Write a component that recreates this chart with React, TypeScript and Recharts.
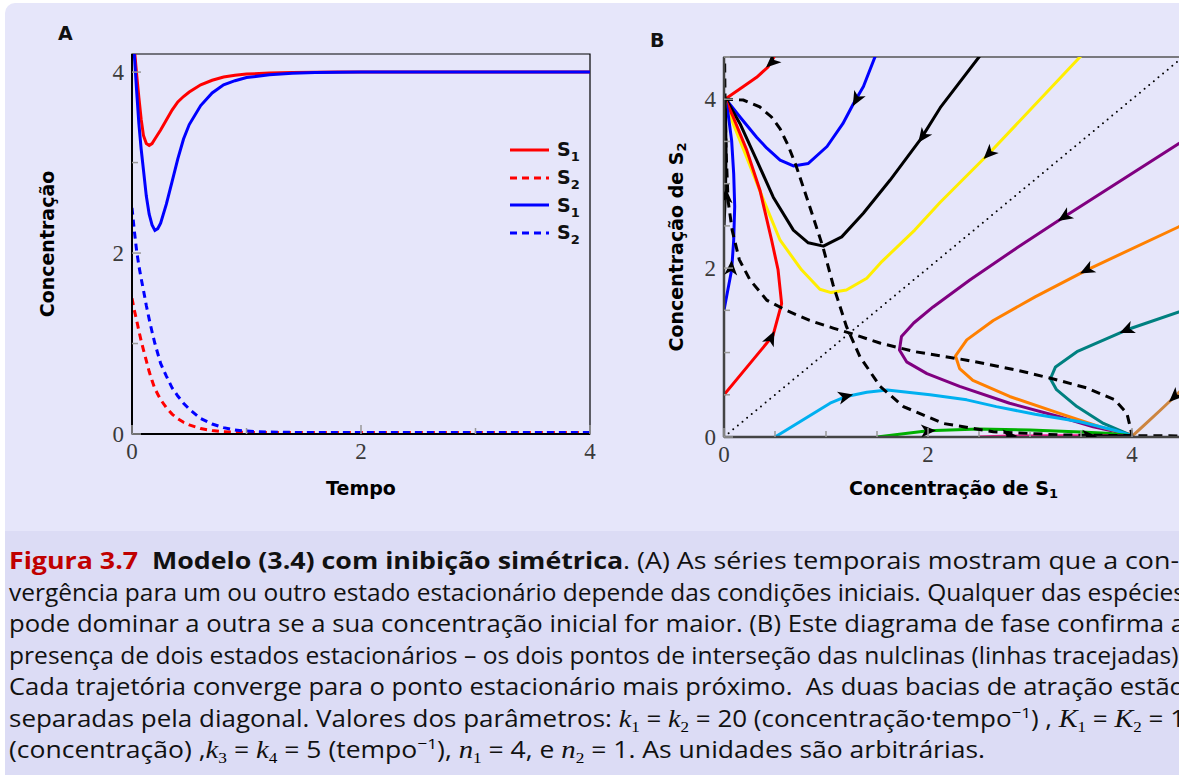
import React from 'react';
import { LineChart, ComposedChart, Line, Scatter, XAxis, YAxis, ReferenceArea, Legend, Label } from 'recharts';

// ---------- Panel A : time series ----------
const timeA = [0, 0.02, 0.04, 0.06, 0.08, 0.1, 0.125, 0.15, 0.175, 0.2, 0.225, 0.25, 0.3, 0.35, 0.4, 0.45, 0.5, 0.6, 0.7, 0.8, 0.9, 1.0, 1.2, 1.4, 1.6, 1.8, 2.0, 2.5, 3.0, 3.5, 4.0];
const redS1 = [4.55, 4.27, 3.98, 3.72, 3.48, 3.3, 3.21, 3.19, 3.21, 3.26, 3.31, 3.36, 3.47, 3.58, 3.67, 3.73, 3.78, 3.86, 3.91, 3.945, 3.965, 3.978, 3.99, 3.996, 3.999, 4, 4, 4, 4, 4, 4];
const redS2 = [1.5, 1.37, 1.26, 1.14, 1.03, 0.93, 0.81, 0.69, 0.59, 0.5, 0.44, 0.38, 0.29, 0.22, 0.17, 0.13, 0.1, 0.06, 0.038, 0.026, 0.02, 0.018, 0.016, 0.016, 0.016, 0.016, 0.016, 0.016, 0.016, 0.016, 0.016];
const blueS1 = [4.55, 4.2, 3.8, 3.43, 3.15, 2.92, 2.63, 2.43, 2.31, 2.25, 2.27, 2.33, 2.54, 2.79, 3.04, 3.26, 3.42, 3.63, 3.77, 3.86, 3.905, 3.94, 3.97, 3.988, 3.996, 3.999, 4, 4, 4, 4, 4];
const blueS2 = [2.5, 2.25, 2.03, 1.86, 1.72, 1.59, 1.42, 1.27, 1.13, 1.0, 0.89, 0.78, 0.64, 0.51, 0.42, 0.34, 0.275, 0.17, 0.11, 0.07, 0.045, 0.032, 0.021, 0.018, 0.016, 0.016, 0.016, 0.016, 0.016, 0.016, 0.016];
const ticksA_X = [0, 1, 2, 3, 4];
const ticksA_Y = [0, 1, 2, 3, 4];
const labeledA = [0, 2, 4];

const rowsA = timeA.map((t, i) => ({ t, r1: redS1[i], r2: redS2[i], b1: blueS1[i], b2: blueS2[i] }));

const seriesA = [
  { key: 'r1', sub: '1', color: '#ff0000', dash: undefined as string | undefined },
  { key: 'r2', sub: '2', color: '#ff0000', dash: '7 5' },
  { key: 'b1', sub: '1', color: '#0000ff', dash: undefined as string | undefined },
  { key: 'b2', sub: '2', color: '#0000ff', dash: '7 5' },
];

// ---------- Panel B : phase plane ----------
type P = [number, number];
const trajRedTop: P[] = [[0.55, 4.7], [0.49, 4.5], [0.43, 4.38], [0.32, 4.26], [0.19, 4.15], [0.08, 4.06], [0.01, 4.0]];
const trajBlueTop: P[] = [[1.57, 4.7], [1.48, 4.5], [1.367, 4.15], [1.27, 3.95], [1.165, 3.71], [1.01, 3.44], [0.827, 3.24], [0.68, 3.21], [0.55, 3.28], [0.42, 3.42], [0.32, 3.55], [0.157, 3.79], [0.026, 3.99]];
const trajBlackTop: P[] = [[2.56, 4.6], [2.5, 4.5], [2.12, 3.9], [1.93, 3.53], [1.627, 3.04], [1.366, 2.65], [1.154, 2.37], [0.974, 2.26], [0.826, 2.3], [0.68, 2.45], [0.483, 2.84], [0.32, 3.28], [0.157, 3.71], [0.02, 4.0]];
const trajYellow: P[] = [[3.57, 4.6], [3.49, 4.5], [2.6, 3.36], [2.12, 2.78], [1.87, 2.45], [1.55, 2.08], [1.4, 1.88], [1.2, 1.74], [1.05, 1.71], [0.94, 1.75], [0.76, 1.98], [0.55, 2.33], [0.39, 2.8], [0.22, 3.32], [0.09, 3.71], [0.02, 3.97]];
const trajRedLow: P[] = [[0, 0.5], [0.48, 1.2], [0.565, 1.58], [0.53, 1.98], [0.467, 2.33], [0.353, 2.92], [0.222, 3.4], [0.09, 3.79], [0.01, 4.0]];
const trajBlueLow: P[] = [[0, 1.5], [0.075, 1.98], [0.095, 2.33], [0.105, 2.73], [0.095, 3.12], [0.075, 3.51], [0.04, 3.83], [0.01, 4.0]];
const trajBlackAxis: P[] = [[0, 2.5], [0.015, 2.9], [0.02, 3.4], [0.015, 3.8], [0.01, 4.0]];
const trajYellowAxis: P[] = [[0, 3.5], [0.01, 3.8], [0.01, 4.0]];
const trajPurple: P[] = [[4.6, 3.56], [4.46, 3.475], [3.34, 2.61], [2.884, 2.25], [2.41, 1.86], [2.05, 1.54], [1.86, 1.35], [1.74, 1.19], [1.72, 1.03], [1.79, 0.89], [1.99, 0.75], [2.31, 0.6], [2.8, 0.4], [3.29, 0.24], [3.62, 0.12], [3.95, 0.035], [4.0, 0.016]];
const trajOrange: P[] = [[4.6, 2.56], [4.46, 2.49], [3.56, 1.98], [3.05, 1.66], [2.64, 1.38], [2.38, 1.15], [2.27, 0.96], [2.31, 0.81], [2.44, 0.67], [2.8, 0.48], [3.29, 0.28], [3.69, 0.12], [3.98, 0.03], [4.0, 0.016]];
const trajTeal: P[] = [[4.6, 1.54], [4.46, 1.48], [3.95, 1.27], [3.46, 1.01], [3.25, 0.83], [3.2, 0.69], [3.26, 0.56], [3.46, 0.36], [3.72, 0.16], [3.97, 0.03], [4.0, 0.016]];
const trajCyan: P[] = [[0.5, 0], [1.04, 0.4], [1.2, 0.48], [1.4, 0.53], [1.6, 0.556], [2.02, 0.5], [2.38, 0.44], [2.67, 0.36], [3.05, 0.27], [3.49, 0.18], [3.83, 0.08], [4.0, 0.016]];
const trajGreen: P[] = [[1.5, 0], [2.0, 0.075], [2.5, 0.095], [3.0, 0.083], [3.5, 0.06], [3.8, 0.04], [4.0, 0.016]];
const trajPink: P[] = [[2.5, 0], [2.8, 0.012], [3.2, 0.016], [4.0, 0.016]];
const trajBlackBottom: P[] = [[3.5, 0], [3.7, 0.012], [4.0, 0.016]];
const trajBrown: P[] = [[4.62, 0.72], [4.42, 0.48], [4.28, 0.32], [4.12, 0.14], [4.01, 0.02]];

const nullclineA: P[] = [[0, 4.0], [0.19, 3.99], [0.35, 3.91], [0.465, 3.79], [0.55, 3.65], [0.63, 3.45], [0.71, 3.2], [0.81, 2.84], [0.97, 2.25], [1.07, 1.8], [1.2, 1.31], [1.333, 0.95], [1.53, 0.6], [1.76, 0.36], [2.15, 0.16], [2.64, 0.063], [3.29, 0.024], [4.0, 0.016], [4.6, 0.012]];
const nullclineB: P[] = [[0.005, 4.6], [0.01, 4.0], [0.02, 3.4], [0.04, 2.8], [0.08, 2.45], [0.15, 2.1], [0.255, 1.86], [0.42, 1.62], [0.61, 1.5], [0.84, 1.38], [1.07, 1.29], [1.235, 1.23], [1.535, 1.11], [1.873, 1.01], [2.38, 0.91], [2.88, 0.79], [3.22, 0.69], [3.56, 0.58], [3.83, 0.44], [3.95, 0.28], [3.99, 0.08], [4.0, 0]];
const diagonal: P[] = [[0, 0], [4.5, 4.5]];

// arrow position + flow direction (data units)
const arrowsB = [
  { x: 0.47, y: 4.44, dx: -0.1, dy: -0.11 },
  { x: 1.3, y: 4.0, dx: -0.2, dy: -0.44 },
  { x: 1.95, y: 3.56, dx: -0.3, dy: -0.5 },
  { x: 2.6, y: 3.36, dx: -0.48, dy: -0.58 },
  { x: 3.34, y: 2.61, dx: -0.46, dy: -0.36 },
  { x: 3.56, y: 1.98, dx: -0.51, dy: -0.32 },
  { x: 3.95, y: 1.27, dx: -0.49, dy: -0.26 },
  { x: 0.46, y: 1.17, dx: 0.2, dy: 0.5 },
  { x: 0.07, y: 2.0, dx: 0.02, dy: 0.4 },
  { x: 0.02, y: 2.85, dx: 0, dy: 1 },
  { x: 1.19, y: 0.48, dx: 0.2, dy: 0.06 },
  { x: 2.0, y: 0.075, dx: 0.5, dy: 0.02 },
  { x: 2.8, y: 0.012, dx: 1, dy: 0 },
  { x: 3.58, y: 0.01, dx: 1, dy: 0 },
  { x: 4.42, y: 0.48, dx: -0.14, dy: -0.16 },
];
const ticksB = [0, 0.5, 1, 1.5, 2, 2.5, 3, 3.5, 4, 4.5];
const labeledB = [0, 2, 4];

const toPts = (a: P[]) => a.map(([x, y]) => ({ x, y }));

const trajectories = [
  { id: 'redTop', color: '#ff0000', pts: trajRedTop },
  { id: 'blueTop', color: '#0000ff', pts: trajBlueTop },
  { id: 'blackTop', color: '#000000', pts: trajBlackTop },
  { id: 'yellow', color: '#ffee00', pts: trajYellow },
  { id: 'redLow', color: '#ff0000', pts: trajRedLow },
  { id: 'blueLow', color: '#0000ff', pts: trajBlueLow },
  { id: 'yellowAxis', color: '#ffee00', pts: trajYellowAxis },
  { id: 'blackAxis', color: '#000000', pts: trajBlackAxis },
  { id: 'purple', color: '#800080', pts: trajPurple },
  { id: 'orange', color: '#ff8000', pts: trajOrange },
  { id: 'teal', color: '#008080', pts: trajTeal },
  { id: 'cyan', color: '#00b0f0', pts: trajCyan },
  { id: 'green', color: '#00b000', pts: trajGreen },
  { id: 'pink', color: '#ff1493', pts: trajPink },
  { id: 'blackBottom', color: '#000000', pts: trajBlackBottom },
  { id: 'brown', color: '#cd853f', pts: trajBrown },
];

// ---------- Caption ----------
type Seg = { t?: string; b?: boolean; c?: string; m?: boolean; sub?: string; sup?: string };
const captionLines: { segs: Seg[]; w: number }[] = [
  { w: 1170, segs: [{ t: 'Figura 3.7', b: true, c: '#c00000' }, { t: '  ' }, { t: 'Modelo (3.4) com inibição simétrica', b: true }, { t: '. (A) As séries temporais mostram que a con-' }] },
  { w: 1176, segs: [{ t: 'vergência para um ou outro estado estacionário depende das condições iniciais. Qualquer das espécies' }] },
  { w: 1176, segs: [{ t: 'pode dominar a outra se a sua concentração inicial for maior. (B) Este diagrama de fase confirma a' }] },
  { w: 1176, segs: [{ t: 'presença de dois estados estacionários – os dois pontos de interseção das nulclinas (linhas tracejadas).' }] },
  { w: 1176, segs: [{ t: 'Cada trajetória converge para o ponto estacionário mais próximo.  As duas bacias de atração estão' }] },
  { w: 1176, segs: [{ t: 'separadas pela diagonal. Valores dos parâmetros: ' }, { t: 'k', m: true }, { sub: '1' }, { t: ' = ' }, { t: 'k', m: true }, { sub: '2' }, { t: ' = 20 (concentração·tempo' }, { sup: '−1' }, { t: ') , ' }, { t: 'K', m: true }, { sub: '1' }, { t: ' = ' }, { t: 'K', m: true }, { sub: '2' }, { t: ' = 1' }] },
  { w: 976, segs: [{ t: '(concentração) ,' }, { t: 'k', m: true }, { sub: '3' }, { t: ' = ' }, { t: 'k', m: true }, { sub: '4' }, { t: ' = 5 (tempo' }, { sup: '−1' }, { t: '), ' }, { t: 'n', m: true }, { sub: '1' }, { t: ' = 4, e ' }, { t: 'n', m: true }, { sub: '2' }, { t: ' = 1. As unidades são arbitrárias.' }] },
];

// ---------- helpers ----------
const SERIF = '"Liberation Serif", "DejaVu Serif", serif';
const SANS = '"DejaVu Sans", sans-serif';
const CAP = '"Open Sans", "Noto Sans", sans-serif';
const PLOT_B_W = 459, PLOT_B_H = 380, DOM_B = 4.5;

const tickTextStyle: React.CSSProperties = { fontFamily: SERIF, fontSize: 23, fill: '#3a3a3a' };

const makeYTick = (labeled: number[]) => (props: any) => {
  const { x, y, payload } = props;
  const v = payload.value;
  const major = labeled.includes(v);
  return (
    <g>
      <line x1={x} x2={x + (major ? 9 : 6)} y1={y} y2={y} stroke="#999" strokeWidth={1.5} />
      {major && (
        <text x={x - 8} y={y} textAnchor="end" dominantBaseline="central" style={tickTextStyle}>{v}</text>
      )}
    </g>
  );
};
const makeXTick = (labeled: number[]) => (props: any) => {
  const { x, y, payload } = props;
  const v = payload.value;
  const major = labeled.includes(v);
  return (
    <g>
      <line x1={x} x2={x} y1={y} y2={y - (major ? 9 : 6)} stroke="#999" strokeWidth={1.5} />
      {major && (
        <text x={x} y={y + 17} textAnchor="middle" dominantBaseline="central" style={tickTextStyle}>{v}</text>
      )}
    </g>
  );
};

const ArrowHead = (props: any) => {
  const { cx, cy, payload } = props;
  if (cx == null || cy == null || !payload) return <g />;
  const ang = (Math.atan2(-payload.dy * (PLOT_B_H / DOM_B), payload.dx * (PLOT_B_W / DOM_B)) * 180) / Math.PI;
  return <path d="M 8 0 L -7 -6.5 L -3 0 L -7 6.5 Z" fill="#000" transform={`translate(${cx},${cy}) rotate(${ang})`} />;
};

const titleStyle: React.CSSProperties = { fontFamily: SANS, fontWeight: 'bold', fontSize: 19, fill: '#000' };

const xTitle = (text: React.ReactNode, dy: number) => (props: any) => {
  const vb = props.viewBox || { x: 0, y: 0, width: 0, height: 0 };
  return (
    <text x={vb.x + vb.width / 2} y={vb.y + dy} textAnchor="middle" dominantBaseline="central" style={titleStyle}>{text}</text>
  );
};
const yTitle = (text: React.ReactNode, dx: number) => (props: any) => {
  const vb = props.viewBox || { x: 0, y: 0, width: 0, height: 0 };
  const cx = vb.x + dx;
  const cy = vb.y + vb.height / 2;
  return (
    <text x={cx} y={cy} transform={`rotate(-90 ${cx} ${cy})`} textAnchor="middle" dominantBaseline="central" style={titleStyle}>{text}</text>
  );
};

const LegendA = () => (
  <div style={{ display: 'flex', flexDirection: 'column' }}>
    {seriesA.map((s) => (
      <div key={s.key} style={{ height: 27.7, display: 'flex', alignItems: 'center' }}>
        <svg width={40} height={8} style={{ display: 'block' }}>
          <line x1={0} x2={39} y1={4} y2={4} stroke={s.color} strokeWidth={3} strokeDasharray={s.dash} />
        </svg>
        <span style={{ marginLeft: 7, fontFamily: SANS, fontWeight: 'bold', fontSize: 19, color: '#111', lineHeight: 1 }}>
          S<span style={{ fontSize: 13, position: 'relative', top: 5 }}>{s.sub}</span>
        </span>
      </div>
    ))}
  </div>
);

const renderCaption = () =>
  captionLines.map((line, li) => {
    let shift = 0;
    const children: React.ReactNode[] = [];
    line.segs.forEach((s, si) => {
      if (s.sub || s.sup) {
        const target = s.sub ? 5 : -9;
        children.push(
          <tspan key={si} dy={target - shift} style={{ fontSize: 15, fontFamily: s.sub ? SERIF : CAP }}>{s.sub || s.sup}</tspan>
        );
        shift = target;
      } else {
        children.push(
          <tspan
            key={si}
            dy={-shift}
            style={{
              fontWeight: s.b ? 'bold' : 'normal',
              fill: s.c || '#111',
              fontStyle: s.m ? 'italic' : 'normal',
              fontFamily: s.m ? SERIF : CAP,
              fontSize: s.m ? 25 : 23,
            }}
          >
            {s.t}
          </tspan>
        );
        shift = 0;
      }
    });
    return (
      <text key={li} x={9} y={569 + li * 31.5} textLength={line.w} lengthAdjust="spacingAndGlyphs" style={{ whiteSpace: 'pre', fontFamily: CAP, fontSize: 23 }}>
        {children}
      </text>
    );
  });

export default function App() {
  return (
    <div style={{ position: 'absolute', left: 0, top: 0, width: 1179, height: 775, overflow: 'hidden', background: '#ffffff' }}>
      <div style={{ position: 'absolute', left: 5, top: 3, width: 1200, height: 800, background: '#e6e6fa', borderRadius: 10 }} />
      <div style={{ position: 'absolute', left: 5, top: 531, width: 1200, height: 260, background: '#dcdcf5' }} />

      <div style={{ position: 'absolute', left: 58, top: 24, fontFamily: SANS, fontWeight: 'bold', fontSize: 19, color: '#111', lineHeight: 1 }}>A</div>
      <div style={{ position: 'absolute', left: 650, top: 31, fontFamily: SANS, fontWeight: 'bold', fontSize: 19, color: '#111', lineHeight: 1 }}>B</div>

      {/* Panel A */}
      <div style={{ position: 'absolute', left: 0, top: 0 }}>
        <LineChart width={620} height={520} data={rowsA} margin={{ top: 54, right: 30, bottom: 56, left: 92 }}>
          <ReferenceArea x1={0} x2={4} y1={0} y2={4.2} fill="none" stroke="#000" strokeWidth={1.2} ifOverflow="visible" />
          <XAxis dataKey="t" type="number" domain={[0, 4]} ticks={ticksA_X} interval={0} allowDataOverflow height={30}
            tickSize={0} tickMargin={0} tickLine={false} tick={makeXTick(labeledA)} axisLine={{ stroke: '#000', strokeWidth: 2 }}>
            <Label content={xTitle('Tempo', 54)} />
          </XAxis>
          <YAxis type="number" domain={[0, 4.2]} ticks={ticksA_Y} interval={0} allowDataOverflow width={40}
            tickSize={0} tickMargin={0} tickLine={false} tick={makeYTick(labeledA)} axisLine={{ stroke: '#000', strokeWidth: 2 }}>
            <Label content={yTitle('Concentração', -45)} />
          </YAxis>
          {seriesA.map((s) => (
            <Line key={s.key} dataKey={s.key} name={'S' + s.sub} stroke={s.color} strokeWidth={3} strokeDasharray={s.dash}
              dot={false} activeDot={false} isAnimationActive={false} type="linear" />
          ))}
          <Legend layout="vertical" align="center" verticalAlign="middle" content={LegendA}
            wrapperStyle={{ position: 'absolute', left: 510, top: 136, width: 100, height: 112 }} />
        </LineChart>
      </div>

      {/* Panel B */}
      <div style={{ position: 'absolute', left: 630, top: 0 }}>
        <ComposedChart width={580} height={520} margin={{ top: 57, right: 27, bottom: 53, left: 54 }}>
          <ReferenceArea x1={0} x2={4.5} y1={0} y2={4.5} fill="none" stroke="#555" strokeWidth={1.5} ifOverflow="visible" />
          <XAxis dataKey="x" type="number" domain={[0, 4.5]} ticks={ticksB} interval={0} allowDataOverflow height={30}
            tickSize={0} tickMargin={0} tickLine={false} tick={makeXTick(labeledB)} axisLine={{ stroke: '#444', strokeWidth: 2.5 }}>
            <Label content={xTitle(<>Concentração de S<tspan style={{ fontSize: 13 }} dy={5}>1</tspan></>, 51)} />
          </XAxis>
          <YAxis dataKey="y" type="number" domain={[0, 4.5]} ticks={ticksB} interval={0} allowDataOverflow width={40}
            tickSize={0} tickMargin={0} tickLine={false} tick={makeYTick(labeledB)} axisLine={{ stroke: '#444', strokeWidth: 2.5 }}>
            <Label content={yTitle(<>Concentração de S<tspan style={{ fontSize: 13 }} dy={5}>2</tspan></>, -8)} />
          </YAxis>
          {trajectories.map((tr) => (
            <Line key={tr.id} data={toPts(tr.pts)} dataKey="y" stroke={tr.color} strokeWidth={3} dot={false} activeDot={false}
              isAnimationActive={false} type="linear" legendType="none" strokeLinejoin="round" />
          ))}
          <Line data={toPts(nullclineA)} dataKey="y" stroke="#000" strokeWidth={3} strokeDasharray="9 6" dot={false} activeDot={false} isAnimationActive={false} type="linear" />
          <Line data={toPts(nullclineB)} dataKey="y" stroke="#000" strokeWidth={3} strokeDasharray="9 6" dot={false} activeDot={false} isAnimationActive={false} type="linear" />
          <Line data={toPts(diagonal)} dataKey="y" stroke="#000" strokeWidth={2} strokeDasharray="0 6" strokeLinecap="round" dot={false} activeDot={false} isAnimationActive={false} type="linear" />
          <Scatter data={arrowsB} dataKey="y" shape={ArrowHead} isAnimationActive={false} legendType="none" />
        </ComposedChart>
      </div>

      <svg width={1179} height={775} style={{ position: 'absolute', left: 0, top: 0, pointerEvents: 'none' }}>
        {renderCaption()}
      </svg>
    </div>
  );
}
